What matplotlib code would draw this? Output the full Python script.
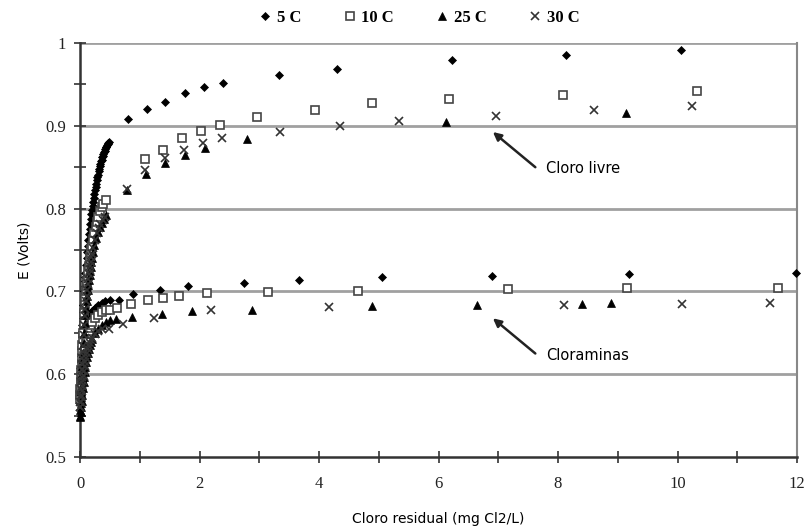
import matplotlib
matplotlib.use('Agg')
import matplotlib.pyplot as plt

# free chlorine (upper branch), dense start + sparse points
livre_5_x = [0.00, 0.005, 0.01, 0.015, 0.02, 0.025, 0.03, 0.035, 0.04, 0.045, 0.05, 0.055, 0.06, 0.065, 0.07,
             0.075, 0.08, 0.085, 0.09, 0.10, 0.11, 0.12, 0.13, 0.14, 0.15, 0.16, 0.17, 0.18, 0.19,
             0.20, 0.21, 0.22, 0.23, 0.24, 0.25, 0.26, 0.27, 0.28, 0.29, 0.30, 0.31, 0.32, 0.33, 0.34, 0.35,
             0.36, 0.37, 0.38, 0.39, 0.40, 0.41, 0.42, 0.43, 0.44, 0.45, 0.46, 0.47, 0.48,
             0.80, 1.12, 1.43, 1.75, 2.07, 2.39, 3.33, 4.30, 6.22, 8.13, 10.05]
livre_5_y = [0.600, 0.607, 0.615, 0.622, 0.630, 0.638, 0.645, 0.652, 0.660, 0.668, 0.675, 0.683, 0.690, 0.695, 0.700,
             0.706, 0.712, 0.717, 0.722, 0.732, 0.740, 0.748, 0.755, 0.762, 0.769, 0.775, 0.781, 0.787, 0.793,
             0.798, 0.803, 0.808, 0.813, 0.818, 0.822, 0.826, 0.830, 0.834, 0.838, 0.841, 0.845, 0.848, 0.851, 0.854, 0.857,
             0.859, 0.862, 0.864, 0.866, 0.868, 0.870, 0.872, 0.874, 0.875, 0.877, 0.878, 0.879, 0.880,
             0.908, 0.920, 0.929, 0.940, 0.947, 0.952, 0.961, 0.969, 0.980, 0.986, 0.992]

livre_10_x = [0.00, 0.005, 0.01, 0.015, 0.02, 0.025, 0.03, 0.035, 0.04, 0.045, 0.05, 0.06, 0.07, 0.08, 0.09,
              0.10, 0.11, 0.12, 0.13, 0.14, 0.15, 0.16, 0.17, 0.18, 0.19, 0.20,
              0.22, 0.24, 0.26, 0.28, 0.30, 0.33, 0.36, 0.39, 0.43,
              1.08, 1.39, 1.71, 2.03, 2.35, 2.97, 3.93, 4.89, 6.17, 8.09, 10.32]
livre_10_y = [0.575, 0.582, 0.590, 0.597, 0.605, 0.612, 0.620, 0.628, 0.635, 0.643, 0.650, 0.662, 0.674, 0.685, 0.693,
              0.700, 0.707, 0.713, 0.719, 0.725, 0.731, 0.736, 0.741, 0.746, 0.751, 0.755,
              0.763, 0.771, 0.778, 0.784, 0.790, 0.797, 0.802, 0.806, 0.810,
              0.860, 0.871, 0.885, 0.894, 0.901, 0.911, 0.919, 0.927, 0.932, 0.937, 0.942]

livre_25_x = [0.00, 0.005, 0.01, 0.015, 0.02, 0.025, 0.03, 0.035, 0.04, 0.045, 0.05, 0.06, 0.07, 0.08, 0.09,
              0.10, 0.11, 0.12, 0.13, 0.14, 0.15, 0.16, 0.17, 0.18, 0.19, 0.20,
              0.22, 0.24, 0.27, 0.30, 0.33, 0.36, 0.40, 0.44,
              0.78, 1.10, 1.42, 1.76, 2.09, 2.79, 6.12, 9.14]
livre_25_y = [0.550, 0.557, 0.565, 0.572, 0.580, 0.587, 0.595, 0.602, 0.610, 0.618, 0.625, 0.638, 0.650, 0.662, 0.671,
              0.680, 0.688, 0.695, 0.702, 0.708, 0.714, 0.720, 0.725, 0.730, 0.735, 0.740,
              0.748, 0.756, 0.765, 0.772, 0.778, 0.783, 0.788, 0.792,
              0.822, 0.842, 0.855, 0.865, 0.873, 0.884, 0.905, 0.915]

livre_30_x = [0.00, 0.005, 0.01, 0.015, 0.02, 0.025, 0.03, 0.035, 0.04, 0.045, 0.05, 0.06, 0.07, 0.08, 0.09,
              0.10, 0.11, 0.12, 0.13, 0.14, 0.15, 0.16, 0.17, 0.18, 0.19, 0.20,
              0.22, 0.25, 0.28, 0.31, 0.34, 0.38, 0.42,
              0.78, 1.09, 1.42, 1.74, 2.06, 2.38, 3.35, 4.35, 5.33, 6.96, 8.60, 10.24]
livre_30_y = [0.560, 0.567, 0.575, 0.582, 0.590, 0.597, 0.605, 0.612, 0.620, 0.627, 0.634, 0.647, 0.659, 0.670, 0.679,
              0.688, 0.695, 0.702, 0.709, 0.715, 0.721, 0.726, 0.731, 0.736, 0.741, 0.745,
              0.753, 0.762, 0.770, 0.776, 0.781, 0.786, 0.790,
              0.824, 0.847, 0.861, 0.871, 0.879, 0.885, 0.892, 0.900, 0.906, 0.912, 0.919, 0.924]

# chloramines (lower branch)
clora_5_x = [0.00, 0.01, 0.02, 0.03, 0.04, 0.05, 0.06, 0.07, 0.08, 0.09, 0.10, 0.115, 0.13, 0.145, 0.16, 0.18,
             0.20, 0.225, 0.25, 0.30, 0.36, 0.42, 0.50,
             0.66, 0.89, 1.34, 1.81, 2.74, 3.67, 5.05, 6.90, 9.19, 11.98]
clora_5_y = [0.600, 0.608, 0.615, 0.622, 0.628, 0.634, 0.640, 0.645, 0.650, 0.654, 0.658, 0.662, 0.665, 0.668, 0.671, 0.674,
             0.676, 0.678, 0.680, 0.683, 0.686, 0.688, 0.689,
             0.690, 0.697, 0.702, 0.707, 0.710, 0.714, 0.717, 0.719, 0.721, 0.722]

clora_10_x = [0.00, 0.01, 0.02, 0.03, 0.04, 0.05, 0.06, 0.07, 0.08, 0.09, 0.10, 0.115, 0.13, 0.145, 0.16, 0.18,
              0.20, 0.25, 0.30, 0.36, 0.43, 0.50,
              0.62, 0.86, 1.13, 1.39, 1.65, 2.13, 3.15, 4.66, 7.17, 9.16, 11.68]
clora_10_y = [0.570, 0.578, 0.585, 0.593, 0.600, 0.608, 0.615, 0.622, 0.628, 0.633, 0.638, 0.643, 0.648, 0.652, 0.656, 0.660,
              0.663, 0.668, 0.672, 0.675, 0.677, 0.678,
              0.680, 0.685, 0.689, 0.692, 0.694, 0.698, 0.699, 0.700, 0.703, 0.704, 0.704]

clora_25_x = [0.00, 0.01, 0.02, 0.03, 0.04, 0.05, 0.06, 0.07, 0.08, 0.09, 0.10, 0.115, 0.13, 0.145, 0.16, 0.18,
              0.20, 0.25, 0.30, 0.36, 0.43, 0.50, 0.60,
              0.87, 1.38, 1.87, 2.87, 4.88, 6.64, 8.40, 8.89]
clora_25_y = [0.548, 0.554, 0.560, 0.568, 0.575, 0.583, 0.590, 0.597, 0.603, 0.609, 0.615, 0.621, 0.626, 0.631, 0.635, 0.639,
              0.643, 0.650, 0.655, 0.659, 0.663, 0.665, 0.667,
              0.669, 0.673, 0.676, 0.678, 0.682, 0.684, 0.685, 0.686]

clora_30_x = [0.00, 0.01, 0.02, 0.03, 0.04, 0.05, 0.06, 0.07, 0.08, 0.09, 0.10, 0.115, 0.13, 0.145, 0.16, 0.18,
              0.20, 0.25, 0.30, 0.36,
              0.49, 0.72, 1.23, 2.20, 4.17, 8.10, 10.07, 11.54]
clora_30_y = [0.560, 0.567, 0.573, 0.580, 0.586, 0.592, 0.598, 0.604, 0.610, 0.615, 0.620, 0.625, 0.630, 0.634, 0.638, 0.641,
              0.644, 0.649, 0.652, 0.654,
              0.655, 0.661, 0.668, 0.678, 0.681, 0.683, 0.685, 0.686]

labels = ['5 C', '10 C', '25 C', '30 C']
x_ticks = [0, 2, 4, 6, 8, 10, 12]
x_tick_labels = ['0', '2', '4', '6', '8', '10', '12']
y_ticks = [0.5, 0.6, 0.7, 0.8, 0.9, 1.0]
y_tick_labels = ['0.5', '0.6', '0.7', '0.8', '0.9', '1']

fig = plt.figure(figsize=(8.1, 5.31), dpi=100)
ax = fig.add_axes([0.0988, 0.1394, 0.8852, 0.7796])

for yv in y_ticks[1:]:
    ax.axhline(yv, color='#a0a0a0', lw=2, zorder=1)

styles = [
    dict(marker='D', ms=4.5, mfc='black', mec='black', mew=0.5),
    dict(marker='s', ms=6, mfc='white', mec='#444444', mew=1.2),
    dict(marker='^', ms=6, mfc='black', mec='black', mew=0.5),
    dict(marker='x', ms=5.5, mfc='none', mec='#333333', mew=1.2),
]
series = [
    (livre_5_x, livre_5_y, clora_5_x, clora_5_y),
    (livre_10_x, livre_10_y, clora_10_x, clora_10_y),
    (livre_25_x, livre_25_y, clora_25_x, clora_25_y),
    (livre_30_x, livre_30_y, clora_30_x, clora_30_y),
]
for (lx, ly, cx, cy), st, lab in zip(series, styles, labels):
    ax.plot(lx, ly, ls='none', label=lab, zorder=3, clip_on=False, **st)
    ax.plot(cx, cy, ls='none', zorder=3, clip_on=False, **st)

ax.set_xlim(0, 12)
ax.set_ylim(0.5, 1.0)
ax.set_xticks(x_ticks, x_tick_labels)
ax.set_xticks([1, 3, 5, 7, 9, 11], minor=True)
ax.set_yticks(y_ticks, y_tick_labels)
ax.set_yticks([0.55, 0.65, 0.75, 0.85, 0.95], minor=True)
ax.tick_params(which='both', direction='inout', length=8, width=1.2, color='#333333')
ax.tick_params(axis='x', pad=10)
ax.tick_params(axis='y', pad=6)
for t in ax.get_xticklabels() + ax.get_yticklabels():
    t.set_fontfamily('Liberation Serif')
    t.set_fontsize(12)
    t.set_color('#222222')

for side in ['left', 'bottom']:
    ax.spines[side].set_color('#333333')
    ax.spines[side].set_linewidth(1.8)
ax.spines['right'].set_color('#888888')
ax.spines['right'].set_linewidth(1.5)
ax.spines['top'].set_visible(False)

ax.set_xlabel('Cloro residual (mg Cl2/L)', fontsize=10, family='DejaVu Sans', labelpad=14)
ax.set_ylabel('E (Volts)', fontsize=10, family='DejaVu Sans', labelpad=10)

arrow = dict(arrowstyle='-|>', color='#222222', lw=1.8, mutation_scale=12, shrinkA=0, shrinkB=0)
ax.annotate('', xy=(6.91, 0.8925), xytext=(7.62, 0.850), arrowprops=arrow)
ax.text(7.8, 0.848, 'Cloro livre', fontsize=10.5, va='center', ha='left')
ax.annotate('', xy=(6.91, 0.6675), xytext=(7.62, 0.625), arrowprops=arrow)
ax.text(7.8, 0.623, 'Cloraminas', fontsize=10.5, va='center', ha='left')

fig.legend(loc='upper center', bbox_to_anchor=(0.515, 1.01), ncol=4, frameon=False,
           prop={'family': 'Liberation Serif', 'size': 12, 'weight': 'bold'},
           handletextpad=0.1, columnspacing=2.3, handlelength=1.2)

fig.savefig('out.png', dpi=100)
